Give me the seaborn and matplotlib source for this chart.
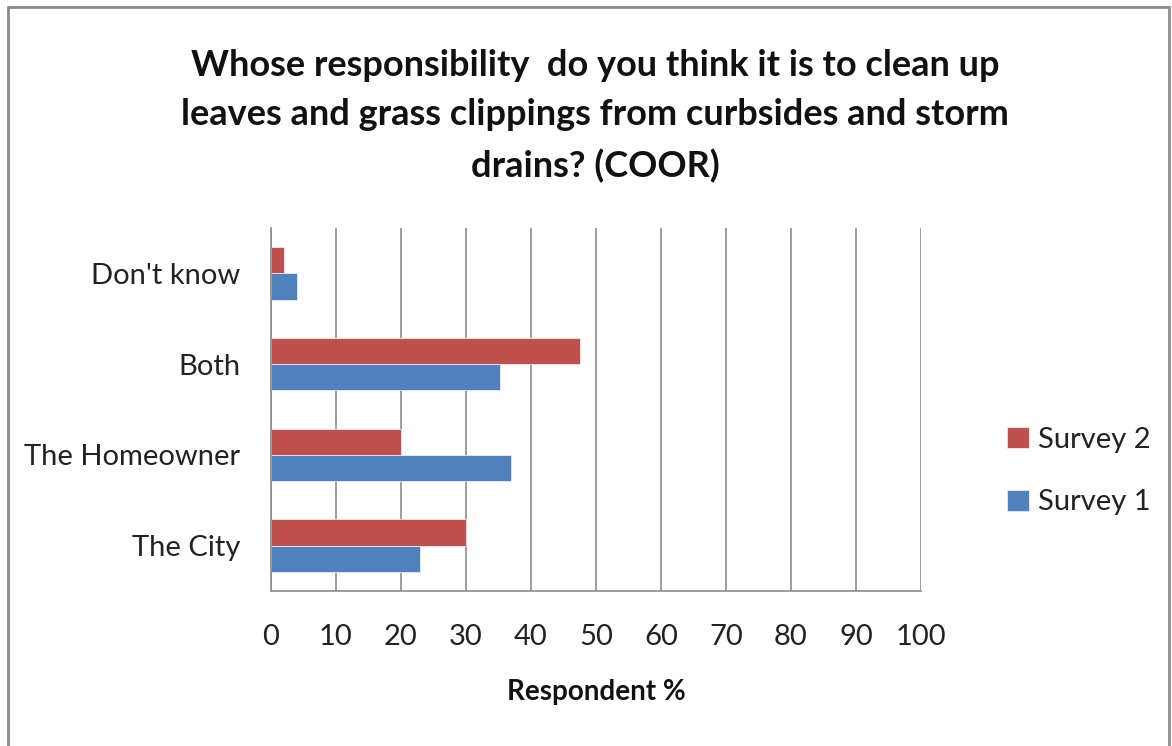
import matplotlib
matplotlib.use("Agg")
import matplotlib.pyplot as plt
import matplotlib.patches as mpatches
from matplotlib.ticker import FixedLocator, NullFormatter
import seaborn as sns
import pandas as pd

# Survey responses (percent of respondents)
categories = ["Don't know", "Both", "The Homeowner", "The City"]
survey_order = ["Survey 2", "Survey 1"]
survey2 = [2.0, 47.5, 20.0, 30.0]
survey1 = [4.0, 35.3, 37.0, 23.0]
x_ticks = list(range(0, 101, 10))

df = pd.DataFrame({
    "Category": categories * 2,
    "Survey": ["Survey 2"] * len(categories) + ["Survey 1"] * len(categories),
    "Percent": survey2 + survey1,
})

sns.set_style("white")
plt.rcParams["font.family"] = ["Lato", "DejaVu Sans"]

fig = plt.figure(figsize=(11.72, 7.46), dpi=100)
ax = fig.add_axes([0.2312, 0.2078, 0.5546, 0.4866])

palette = {"Survey 2": "#C0504D", "Survey 1": "#4F81BD"}
sns.barplot(data=df, y="Category", x="Percent", hue="Survey",
            order=categories, hue_order=survey_order, palette=palette,
            orient="h", width=0.58, saturation=1, ax=ax,
            edgecolor="#E8E8F0", linewidth=0.6, legend=True)

ax.set_xlim(0, 100)
ax.set_ylim(len(categories) - 0.5, -0.5)
ax.set_xticks(x_ticks)
ax.set_xticklabels([str(t) for t in x_ticks], fontsize=21, color="#222222")
ax.xaxis.grid(True, color="#8C8C8C", linewidth=1.2)
ax.set_axisbelow(True)

# Category labels centred; tick marks on the band boundaries
ax.tick_params(axis="y", which="major", length=0, pad=22, labelsize=21, labelcolor="#222222")
ax.yaxis.set_minor_locator(FixedLocator([i - 0.5 for i in range(len(categories) + 1)]))
ax.yaxis.set_minor_formatter(NullFormatter())
ax.tick_params(axis="y", which="minor", length=9, width=1.2, color="#8C8C8C", direction="out")
ax.tick_params(axis="x", which="major", length=9, width=1.2, color="#8C8C8C", direction="out", pad=15)

for side in ["top", "right"]:
    ax.spines[side].set_visible(False)
for side in ["left", "bottom"]:
    ax.spines[side].set_color("#8C8C8C")
    ax.spines[side].set_linewidth(1.2)

ax.set_ylabel("")
ax.set_xlabel("Respondent %", fontsize=20, fontweight="bold", labelpad=21, color="#111111")

leg = ax.legend(loc="center left", bbox_to_anchor=(1.092, 0.33), frameon=False,
                fontsize=21, handlelength=0.75, handleheight=0.75,
                handletextpad=0.3, labelspacing=1.25)
for t in leg.get_texts():
    t.set_color("#222222")

fig.text(0.508, 0.934,
         "Whose responsibility  do you think it is to clean up\n"
         "leaves and grass clippings from curbsides and storm\n"
         "drains? (COOR)",
         ha="center", va="top", fontsize=26, fontweight="bold",
         linespacing=1.6, color="#111111")

# Chart-area border
fig.patches.append(mpatches.Rectangle((8 / 1172, -0.02), 1161 / 1172, 1.02 - 7 / 746,
                                      transform=fig.transFigure, fill=False,
                                      edgecolor="#8C8C8C", linewidth=2))

fig.savefig("out.png", dpi=100)
